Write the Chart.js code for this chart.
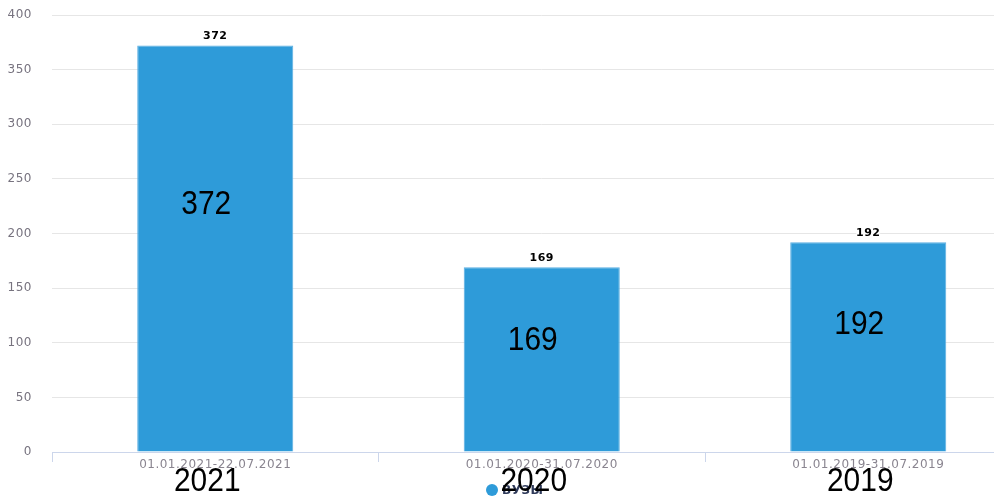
<!DOCTYPE html>
<html>
<head>
<meta charset="utf-8">
<script src="https://cdn.jsdelivr.net/npm/chart.js@4/dist/chart.umd.min.js"></script>
<style>
  html, body { margin: 0; padding: 0; background: #fff; overflow: hidden; }
  #wrap { position: relative; width: 1040px; height: 497px; }
</style>
</head>
<body>
<div id="wrap"><canvas id="chart"></canvas></div>
<script>
// periods on the x axis
const periods = ['01.01.2021-22.07.2021', '01.01.2020-31.07.2020', '01.01.2019-31.07.2019'];
const years = ['2021', '2020', '2019'];
const values = [372, 169, 192];
const seriesName = 'ВУЗЫ';
const yTicks = [0, 50, 100, 150, 200, 250, 300, 350, 400];

const barColor = '#2e9bd9';

// slightly wider text like the original
const spacing = {
    id: 'spacing',
    beforeDraw(chart) { chart.ctx.letterSpacing = '0.5px'; }
};

// labels drawn over the chart: small value on top, big number in the bar, year under axis, legend
const overlay = {
    id: 'overlay',
    afterDatasetsDraw(chart) {
        const ctx = chart.ctx;
        const meta = chart.getDatasetMeta(0);
        const y = chart.scales.y;
        const x = chart.scales.x;

        ctx.save();
        ctx.letterSpacing = '0.5px';
        meta.data.forEach(function(bar, i) {
            // value on top of bar
            ctx.font = 'bold 11px "DejaVu Sans"';
            ctx.textAlign = 'center';
            ctx.textBaseline = 'middle';
            ctx.lineJoin = 'round';
            ctx.lineWidth = 3;
            ctx.strokeStyle = '#fff';
            ctx.strokeText(String(values[i]), bar.x, bar.y - 9);
            ctx.fillStyle = '#000';
            ctx.fillText(String(values[i]), bar.x, bar.y - 9);

            // big number inside bar
            drawNarrow(ctx, String(values[i]), bar.x - 9, y.getPixelForValue(values[i] * 0.61));
        });

        // legend
        const lx = chart.width / 2 - 28;
        ctx.fillStyle = barColor;
        ctx.beginPath();
        ctx.arc(lx, 490, 6, 0, Math.PI * 2);
        ctx.fill();
        ctx.font = 'bold 12px "DejaVu Sans"';
        ctx.fillStyle = '#2f3a5a';
        ctx.textAlign = 'left';
        ctx.textBaseline = 'middle';
        ctx.fillText(seriesName, lx + 10, 491);

        // years under the axis
        years.forEach(function(yr, i) {
            drawNarrow(ctx, yr, x.getPixelForValue(i) - 8, 481);
        });
        ctx.restore();
    }
};

function drawNarrow(ctx, text, cx, cy) {
    ctx.save();
    ctx.letterSpacing = '0px';
    ctx.translate(cx, cy);
    ctx.scale(0.88, 1);
    ctx.font = '34px "Liberation Sans"';
    ctx.fillStyle = '#000';
    ctx.textAlign = 'center';
    ctx.textBaseline = 'middle';
    ctx.fillText(text, 0, 1);
    ctx.restore();
}

const ctx = document.getElementById('chart').getContext('2d');
const chart = new Chart(ctx, {
    type: 'bar',
    data: {
        labels: periods,
        datasets: [{
            label: seriesName,
            data: values,
            backgroundColor: barColor,
            borderColor: '#5aaee2',
            borderWidth: 1,
            categoryPercentage: 1,
            barPercentage: 0.478
        }]
    },
    options: {
        responsive: true,
        maintainAspectRatio: false,
        animation: false,
        layout: {
            padding: { top: 15, right: 8.5, left: 0, bottom: 0 }
        },
        plugins: {
            legend: { display: false },
            tooltip: { enabled: false }
        },
        scales: {
            x: {
                grid: {
                    drawOnChartArea: false,
                    drawTicks: true,
                    tickLength: 10,
                    color: '#ccd6eb'
                },
                border: { color: '#ccd6eb' },
                ticks: {
                    color: '#8a8590',
                    padding: -4,
                    maxRotation: 0,
                    font: { family: 'DejaVu Sans', size: 12 }
                },
                afterFit: function(scale) {
                    scale.height = 45;
                    scale.paddingLeft = 0;
                    scale.paddingRight = 0;
                }
            },
            y: {
                min: 0,
                max: 400,
                afterBuildTicks: function(scale) {
                    scale.ticks = yTicks.map(function(v) { return { value: v }; });
                },
                grid: {
                    color: '#e6e6e6',
                    drawTicks: false
                },
                border: { display: false },
                ticks: {
                    color: '#77737f',
                    padding: 20,
                    font: { family: 'DejaVu Sans', size: 12 }
                },
                afterFit: function(scale) {
                    scale.width = 52;
                    scale.paddingTop = 0;
                    scale.paddingBottom = 0;
                }
            }
        }
    },
    plugins: [spacing, overlay]
});
</script>
</body>
</html>
